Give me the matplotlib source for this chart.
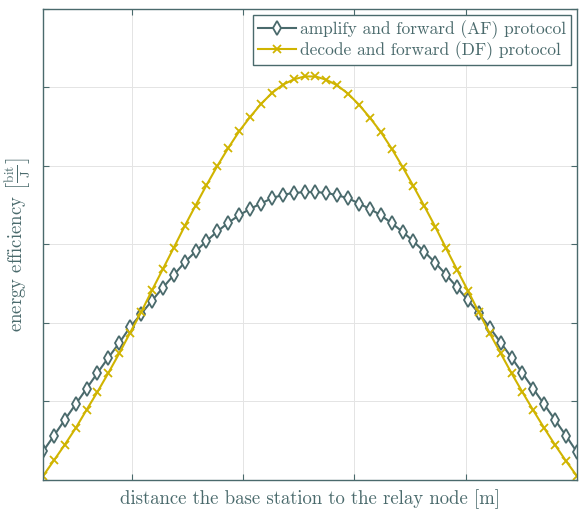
import numpy as np
import matplotlib
matplotlib.use("Agg")
import matplotlib.pyplot as plt

plt.rcParams['font.family'] = 'serif'
plt.rcParams['font.serif'] = ['cmr10']
plt.rcParams['mathtext.fontset'] = 'cm'
plt.rcParams['axes.formatter.use_mathtext'] = True

slate = "#4a6a6c"
gold = "#d0b400"

# distance of the relay node [m], 50 points
distance = np.linspace(20, 500, 50)

af_eff = [0.364, 0.563, 0.766, 0.965, 1.164, 1.363, 1.558, 1.745, 1.948, 2.113,
          2.283, 2.448, 2.609, 2.770, 2.909, 3.041, 3.164, 3.274, 3.371, 3.451,
          3.519, 3.587, 3.629, 3.655, 3.663, 3.665, 3.655, 3.625, 3.587, 3.519,
          3.451, 3.371, 3.269, 3.159, 3.037, 2.905, 2.765, 2.613, 2.452, 2.287,
          2.122, 1.940, 1.749, 1.558, 1.359, 1.160, 0.961, 0.762, 0.563, 0.355]

df_eff = [0.050, 0.249, 0.449, 0.660, 0.893, 1.122, 1.363, 1.613, 1.876, 2.134,
          2.414, 2.685, 2.956, 3.231, 3.494, 3.752, 3.998, 4.226, 4.438, 4.620,
          4.786, 4.925, 5.031, 5.099, 5.137, 5.137, 5.095, 5.023, 4.917, 4.777,
          4.612, 4.430, 4.218, 3.985, 3.739, 3.485, 3.223, 2.947, 2.676, 2.409,
          2.134, 1.867, 1.613, 1.359, 1.118, 0.885, 0.660, 0.444, 0.241, 0.050]

x_ticks = [100, 200, 300, 400]
y_ticks = [0, 1, 2, 3, 4, 5, 6]

fig = plt.figure(figsize=(5.81, 5.09), dpi=100)
ax = fig.add_axes([0.074, 0.057, 0.919, 0.926])

ax.plot(distance, af_eff, color=slate, lw=1.5, marker='d', ms=7,
        mfc='white', mec=slate, mew=1.3,
        label="amplify and forward (AF) protocol")
ax.plot(distance, df_eff, color=gold, lw=1.5, marker='x', ms=6,
        mec=gold, mew=1.3,
        label="decode and forward (DF) protocol")

ax.set_xlim(20, 500)
ax.set_ylim(0, 6)
ax.set_xticks(x_ticks)
ax.set_yticks(y_ticks)
ax.set_xticklabels([])
ax.set_yticklabels([])
ax.tick_params(direction='in', length=4, width=0.8, color=slate,
               top=True, right=True)
ax.grid(True, color='#e4e4e4', lw=0.7)
ax.set_axisbelow(True)
for s in ax.spines.values():
    s.set_color(slate)
    s.set_linewidth(1.0)

ax.set_xlabel("distance the base station to the relay node [m]",
              fontsize=13.5, color=slate, labelpad=3)
ax.set_ylabel(r"energy efficiency $\left[\frac{\mathrm{bit}}{\mathrm{J}}\right]$",
              fontsize=13.5, color=slate, labelpad=4)

leg = ax.legend(loc='upper right', fontsize=12.5, frameon=True, fancybox=False,
                framealpha=1, edgecolor=slate, borderpad=0.3, labelspacing=0.15,
                handlelength=2.2, handletextpad=0.2, borderaxespad=0.35)
leg.get_frame().set_linewidth(1.0)
for t in leg.get_texts():
    t.set_color(slate)

fig.savefig("out.png", dpi=100)
